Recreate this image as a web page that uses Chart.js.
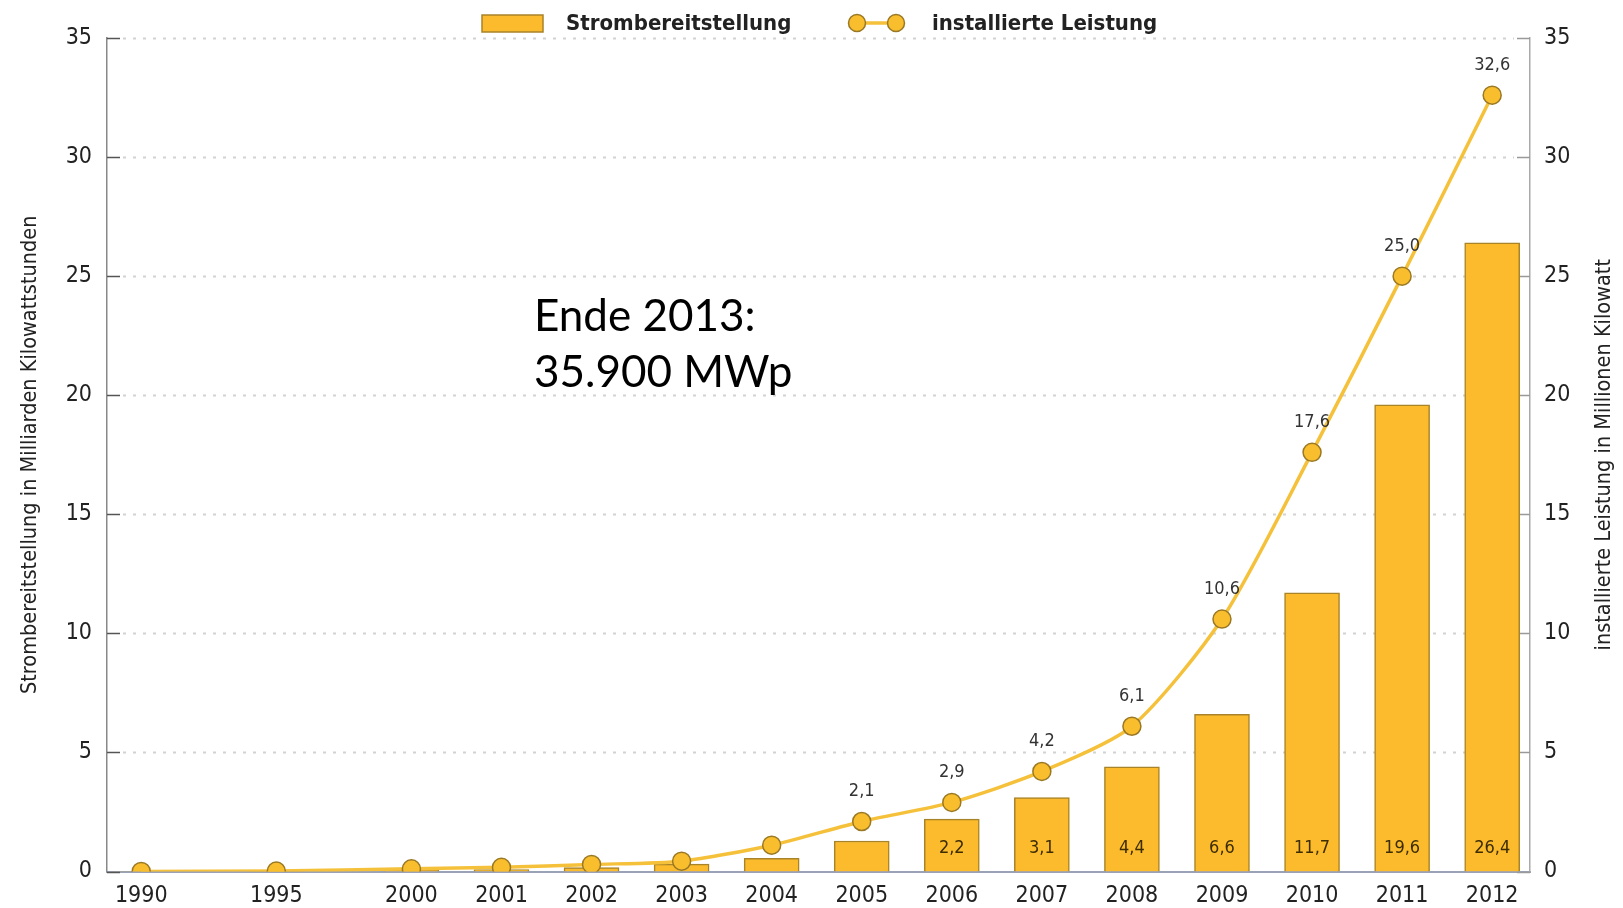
<!DOCTYPE html>
<html>
<head>
<meta charset="utf-8">
<script src="https://cdn.jsdelivr.net/npm/chart.js@4.4.1/dist/chart.umd.min.js"></script>
<style>
  html, body { margin: 0; padding: 0; background: #fff; }
  #wrap { width: 1623px; height: 908px; }
</style>
</head>
<body>
<div id="wrap"><canvas id="pvChart"></canvas></div>
<script>
// Photovoltaik: Strombereitstellung (Mrd. kWh) und installierte Leistung (Mio. kW)
const years = [1990, 1995, 2000, 2001, 2002, 2003, 2004, 2005, 2006, 2007, 2008, 2009, 2010, 2011, 2012];
const strom = [0.001, 0.007, 0.064, 0.076, 0.162, 0.313, 0.557, 1.282, 2.2, 3.1, 4.4, 6.6, 11.7, 19.6, 26.4];
const leistung = [0.002, 0.018, 0.114, 0.176, 0.296, 0.435, 1.105, 2.1, 2.9, 4.2, 6.1, 10.6, 17.6, 25.0, 32.6];
const yTicks = [0, 5, 10, 15, 20, 25, 30, 35];
const rightTitle = 'installierte Leistung in Millionen Kilowatt';
const noteLines = ['Ende 2013:', '35.900 MWp'];

// labels shown from these years on
const lineLabelFrom = 2005;
const barLabelFrom = 2006;

const BAR_FILL = '#FBBB2C';
const BAR_EDGE = '#A98328';
const LINE_COL = '#F6C13A';
const DOT_EDGE = '#9A7824';
const NARROW = '"Liberation Sans Narrow", "DejaVu Sans Condensed", "Arial Narrow", sans-serif';

// 1990-2000 sit compressed on the axis (5 years = 1.5 slots)
function axisPos(year) {
  return year <= 2000 ? (year - 1990) * 0.3 : 3 + (year - 2000);
}

function fmt(v) {
  return v.toFixed(1).replace('.', ',');
}

// dotted grid + short inward tick marks on both y axes
const gridPlugin = {
  id: 'pvGrid',
  beforeDatasetsDraw(chart) {
    const { ctx, chartArea } = chart;
    const y = chart.scales.y;
    ctx.save();
    yTicks.forEach((t) => {
      const py = Math.round(y.getPixelForValue(t)) + 0.5;
      if (t > 0) {
        ctx.strokeStyle = '#d2d2d2';
        ctx.lineWidth = 2;
        ctx.setLineDash([3, 7]);
        ctx.beginPath();
        ctx.moveTo(chartArea.left + 16, py);
        ctx.lineTo(chartArea.right - 16, py);
        ctx.stroke();
      }
      ctx.setLineDash([]);
      ctx.strokeStyle = '#555';
      ctx.lineWidth = 1.5;
      ctx.beginPath();
      ctx.moveTo(chartArea.left, py);
      ctx.lineTo(chartArea.left + 13, py);
      ctx.stroke();
      ctx.strokeStyle = '#999';
      ctx.beginPath();
      ctx.moveTo(chartArea.right - 13, py);
      ctx.lineTo(chartArea.right, py);
      ctx.stroke();
    });
    ctx.restore();
  }
};

// value labels, legend, right axis title and the note
const labelPlugin = {
  id: 'pvLabels',
  afterDraw(chart) {
    const { ctx, chartArea } = chart;
    const lineMeta = chart.getDatasetMeta(0);
    const barMeta = chart.getDatasetMeta(1);
    ctx.save();
    ctx.textAlign = 'center';
    ctx.textBaseline = 'middle';

    ctx.font = '18px ' + NARROW;
    ctx.fillStyle = '#333';
    lineMeta.data.forEach((pt, i) => {
      if (years[i] >= lineLabelFrom) ctx.fillText(fmt(leistung[i]), pt.x, pt.y - 30);
    });

    ctx.font = '18px ' + NARROW;
    ctx.fillStyle = '#3d2c00';
    barMeta.data.forEach((bar, i) => {
      if (years[i] >= barLabelFrom) ctx.fillText(fmt(strom[i]), bar.x, bar.base - 23);
    });

    // right axis title, reading bottom to top like the left one
    ctx.save();
    ctx.translate(1604, (chartArea.top + chartArea.bottom) / 2);
    ctx.rotate(-Math.PI / 2);
    ctx.font = '21.5px ' + NARROW;
    ctx.fillStyle = '#222';
    ctx.fillText(rightTitle, 0, 0);
    ctx.restore();

    // legend
    ctx.fillStyle = BAR_FILL;
    ctx.strokeStyle = BAR_EDGE;
    ctx.lineWidth = 1.5;
    ctx.fillRect(482, 15, 61, 17);
    ctx.strokeRect(482, 15, 61, 17);

    ctx.strokeStyle = LINE_COL;
    ctx.lineWidth = 3.5;
    ctx.beginPath();
    ctx.moveTo(857, 23);
    ctx.lineTo(896, 23);
    ctx.stroke();
    [857, 896].forEach((cx) => {
      ctx.beginPath();
      ctx.arc(cx, 23, 8.5, 0, Math.PI * 2);
      ctx.fillStyle = '#F9BE2D';
      ctx.fill();
      ctx.strokeStyle = DOT_EDGE;
      ctx.lineWidth = 1.5;
      ctx.stroke();
    });

    ctx.textAlign = 'left';
    ctx.fillStyle = '#222';
    ctx.font = 'bold 22px ' + NARROW;
    ctx.fillText(chart.data.datasets[1].label, 566, 24);
    ctx.fillText(chart.data.datasets[0].label, 932, 24);

    // note
    ctx.font = '44px Lato, "Open Sans", sans-serif';
    ctx.fillStyle = '#000';
    ctx.textBaseline = 'alphabetic';
    ctx.fillText(noteLines[0], 534, 331);
    ctx.fillText(noteLines[1], 534, 387);
    ctx.restore();
  }
};

const ctx = document.getElementById('pvChart').getContext('2d');
const pvChart = new Chart(ctx, {
  data: {
    datasets: [
      {
        type: 'line',
        label: 'installierte Leistung',
        data: years.map((y, i) => ({ x: axisPos(y), y: leistung[i] })),
        yAxisID: 'y1',
        borderColor: LINE_COL,
        borderWidth: 3.5,
        tension: 0.25,
        pointRadius: 9,
        pointBackgroundColor: '#F9BE2D',
        pointBorderColor: DOT_EDGE,
        pointBorderWidth: 1.5,
        // dots sitting on the zero line are cut by the axis
        clip: { left: 20, right: 20, top: 20, bottom: 0 }
      },
      {
        type: 'bar',
        label: 'Strombereitstellung',
        data: years.map((y, i) => ({ x: axisPos(y), y: strom[i] })),
        yAxisID: 'y',
        backgroundColor: BAR_FILL,
        borderColor: BAR_EDGE,
        borderWidth: 1.5,
        barThickness: 55
      }
    ]
  },
  options: {
    responsive: true,
    maintainAspectRatio: false,
    animation: false,
    layout: { padding: { top: 38, left: 0, right: 0, bottom: 0 } },
    plugins: {
      legend: { display: false },
      tooltip: { enabled: false }
    },
    scales: {
      x: {
        type: 'linear',
        offset: false,
        min: -0.38,
        max: 15.42,
        afterBuildTicks: (s) => { s.ticks = years.map((y) => ({ value: axisPos(y) })); },
        afterFit: (s) => { s.height = 36.5; },
        ticks: {
          callback: (v, i) => String(years[i]),
          autoSkip: false,
          maxRotation: 0,
          padding: 3,
          color: '#222',
          font: { family: NARROW, size: 23 }
        },
        grid: { display: false },
        border: { color: '#9AA3B6', width: 2 }
      },
      y: {
        position: 'left',
        min: 0,
        max: 35,
        afterBuildTicks: (s) => { s.ticks = yTicks.map((v) => ({ value: v })); },
        afterFit: (s) => { s.width = 107; },
        ticks: {
          padding: 15,
          color: '#222',
          font: { family: NARROW, size: 23 }
        },
        grid: { display: false, drawTicks: false },
        border: { color: '#888', width: 1.5 },
        title: {
          display: true,
          text: 'Strombereitstellung in Milliarden Kilowattstunden',
          color: '#222',
          font: { family: NARROW, size: 21.5 },
          padding: { top: 18, bottom: 0 }
        }
      },
      y1: {
        position: 'right',
        min: 0,
        max: 35,
        afterBuildTicks: (s) => { s.ticks = yTicks.map((v) => ({ value: v })); },
        afterFit: (s) => { s.width = 93; },
        ticks: {
          padding: 14,
          color: '#222',
          font: { family: NARROW, size: 23 }
        },
        grid: { display: false, drawTicks: false },
        border: { color: '#aaa', width: 1.5 }
      }
    }
  },
  plugins: [gridPlugin, labelPlugin]
});
</script>
</body>
</html>
